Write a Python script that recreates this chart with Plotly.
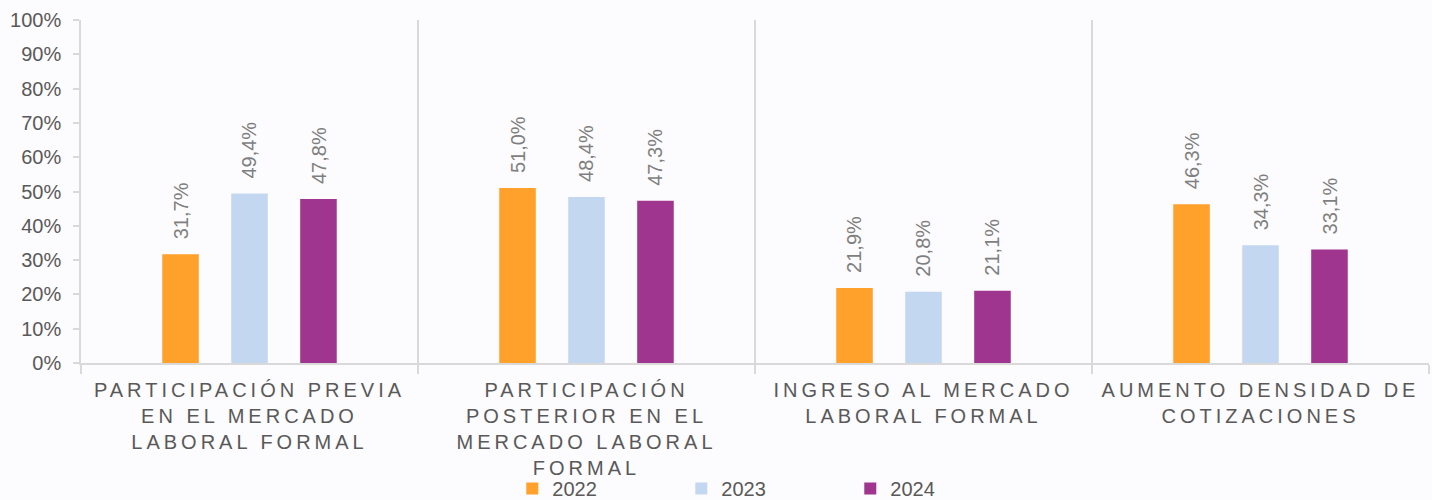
import plotly.graph_objects as go

categories = [
    "PARTICIPACIÓN PREVIA<br>EN EL MERCADO<br>LABORAL FORMAL",
    "PARTICIPACIÓN<br>POSTERIOR EN EL<br>MERCADO LABORAL<br>FORMAL",
    "INGRESO AL MERCADO<br>LABORAL FORMAL",
    "AUMENTO DENSIDAD DE<br>COTIZACIONES",
]
series_names = ["2022", "2023", "2024"]
values_2022 = [31.7, 51.0, 21.9, 46.3]
values_2023 = [49.4, 48.4, 20.8, 34.3]
values_2024 = [47.8, 47.3, 21.1, 33.1]
y_ticks = list(range(0, 101, 10))
y_tick_labels = [f"{v}%" for v in y_ticks]

colors = ["#FFA12B", "#C3D8F0", "#A0358F"]
FONT = "Liberation Sans, Arial, sans-serif"

fig = go.Figure()
all_values = [values_2022, values_2023, values_2024]
for name, vals, col in zip(series_names, all_values, colors):
    fig.add_trace(go.Bar(
        x=categories, y=vals, name=name,
        marker=dict(color=col, line=dict(width=0)),
        hoverinfo="skip",
    ))

# data labels as annotations (rotated), shifted to each bar of the group
shifts = [-69, 0, 69]
for vals, sh in zip(all_values, shifts):
    for c, v in zip(categories, vals):
        fig.add_annotation(
            x=c, y=v, xref="x", yref="y",
            text=f"{v:.1f}".replace(".", ",") + "%",
            textangle=-90, showarrow=False,
            xanchor="center", yanchor="bottom",
            xshift=sh, yshift=13,
            font=dict(family=FONT, size=20, color="#7F7F7F"),
        )

fig.update_layout(
    width=1432, height=500,
    paper_bgcolor="#FCFBFD", plot_bgcolor="#FCFBFD",
    margin=dict(l=81, r=3, t=20, b=137, autoexpand=False),
    barmode="group", bargap=0.386, bargroupgap=0.47,
    font=dict(family=FONT, size=20, color="#595959"),
    showlegend=True,
    legend=dict(
        orientation="h", x=0.508, xanchor="center", y=-0.366, yanchor="middle",
        font=dict(family=FONT, size=20, color="#595959"),
        entrywidth=124, bgcolor="rgba(0,0,0,0)",
    ),
    xaxis=dict(
        type="category", range=[-0.5, 3.5], automargin=False,
        showline=True, linecolor="#D9D9D9", linewidth=1.5,
        showgrid=True, gridcolor="#D9D9D9", gridwidth=1.5,
        tickson="boundaries", ticks="outside", ticklen=9, tickcolor="#D9D9D9", tickwidth=1.5,
        tickfont=dict(family=FONT, size=20, color="#595959"),
        tickangle=0, ticklabelstandoff=8,
    ),
    yaxis=dict(
        range=[0, 100], tickvals=y_ticks, ticktext=y_tick_labels, automargin=False,
        showline=True, linecolor="#D9D9D9", linewidth=1.5,
        showgrid=False, zeroline=False,
        ticks="outside", ticklen=6, tickcolor="#D9D9D9", tickwidth=1.5,
        tickfont=dict(family=FONT, size=20, color="#595959"),
        ticklabelstandoff=8,
    ),
)

post = """
document.body.style.margin = '0';
document.documentElement.style.background = '#FCFBFD';
var gd = document.getElementById('{plot_id}');
gd.querySelectorAll('.xtick text').forEach(function(t){ t.style.letterSpacing = '4px'; });
"""
fig.write_html("out.html", post_script=post, config={"displayModeBar": False})
